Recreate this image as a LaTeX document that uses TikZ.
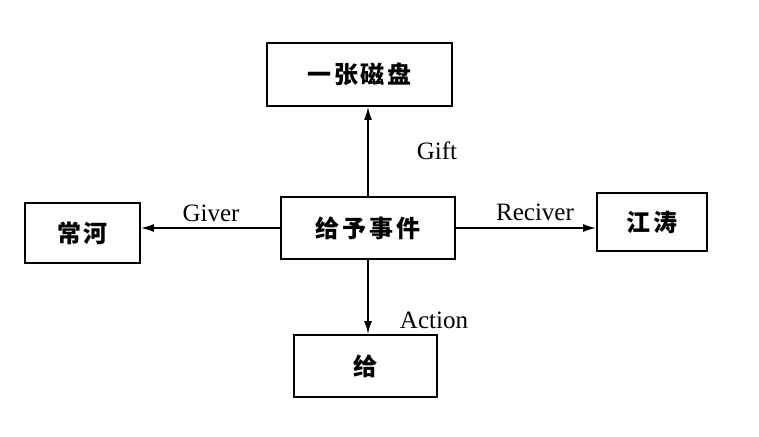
\documentclass[tikz,border=0pt]{standalone}
\usepackage{fontspec}
\setmainfont{Liberation Serif}
\newfontfamily\cjk[LetterSpace=12]{Noto Sans CJK SC}
\usetikzlibrary{arrows.meta}
\begin{document}
\begin{tikzpicture}[x=1pt,y=-1pt,
  box/.style={draw,line width=1.9pt,minimum width=#1,inner sep=0pt,font=\cjk\bfseries\fontsize{24}{24}\selectfont},
  conn/.style={line width=1.5pt,-{Latex[length=13pt,width=8pt]}},
  lab/.style={font=\fontsize{25}{25}\selectfont,inner sep=0pt}]
\useasboundingbox (0,0) rectangle (759,436);
\node[box=185pt,minimum height=63pt] (top) at (359.5,74.5) {一张磁盘};
\node[box=174pt,minimum height=62pt] (c) at (368,228) {给予事件};
\node[box=115pt,minimum height=60pt] (l) at (82.5,233) {常河};
\node[box=110pt,minimum height=58pt] (r) at (652,222) {江涛};
\node[box=143pt,minimum height=62pt] (b) at (365.5,366) {给};
\draw[conn] (c.north) -- (c.north |- top.south);
\draw[conn] (c.south) -- (c.south |- b.north);
\draw[conn] (c.west) -- (c.west -| l.east);
\draw[conn] (c.east) -- (c.east -| r.west);
\node[lab] (gift) at (437,151) {Gift};
\node[lab] (giver) at (211,213) {Giver};
\node[lab] (reciver) at (535,212) {Reciver};
\node[lab] (action) at (434,320) {Action};
\end{tikzpicture}
\end{document}
